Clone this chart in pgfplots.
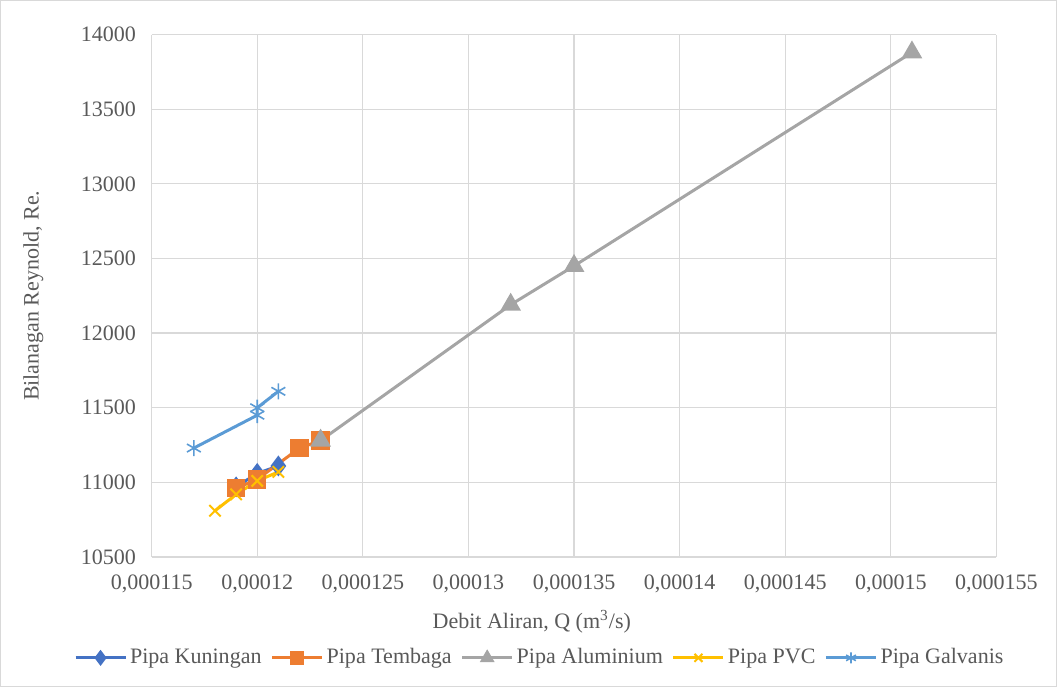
\documentclass[border=0pt]{standalone}
\usepackage{pgfplots}
\pgfplotsset{compat=1.18}
\usepackage{fontspec}
\setmainfont{Liberation Serif}
\definecolor{cK}{HTML}{4472C4}
\definecolor{cT}{HTML}{ED7D31}
\definecolor{cA}{HTML}{A5A5A5}
\definecolor{cP}{HTML}{FFC000}
\definecolor{cG}{HTML}{5B9BD5}
\definecolor{gridc}{HTML}{D9D9D9}
\definecolor{txt}{HTML}{595959}
\begin{document}
\begin{tikzpicture}
\fontsize{11}{13}\selectfont
\path[draw=gridc, line width=0.5pt] (0.5pt,0.5pt) rectangle (528pt,343pt);
\begin{axis}[
  at={(76pt,65pt)}, anchor=south west,
  scale only axis, width=422pt, height=261pt,
  xmin=0.000115, xmax=0.000155, ymin=10500, ymax=14000,
  xtick={0.000115,0.00012,0.000125,0.00013,0.000135,0.00014,0.000145,0.00015,0.000155},
  xticklabels={{0,000115},{0,00012},{0,000125},{0,00013},{0,000135},{0,00014},{0,000145},{0,00015},{0,000155}},
  scaled x ticks=false, scaled y ticks=false,
  ytick={10500,11000,11500,12000,12500,13000,13500,14000},
  yticklabels={10500,11000,11500,12000,12500,13000,13500,14000},
  grid=major, major grid style={draw=gridc, line width=0.6pt},
  axis line style={draw=none},
  tick style={draw=none},
  tick label style={font=\fontsize{11}{13}\selectfont, text=txt},
  xticklabel style={yshift=-5pt},
  yticklabel style={xshift=-4pt},
  label style={font=\fontsize{11}{13}\selectfont, text=txt},
  xlabel={Debit Aliran, Q (m\textsuperscript{3}/s)},
  ylabel={Bilanagan Reynold, Re.},
  xlabel style={at={(axis description cs:0.45,-0.1245)}, anchor=center},
  ylabel style={at={(axis description cs:-0.14,0.5)}, anchor=center},
  legend columns=5,
  legend style={draw=none, at={(axis description cs:0.46,-0.193)}, anchor=center,
    font=\fontsize{11}{13}\selectfont, text=txt,
    /tikz/every odd column/.append style={column sep=0pt},
    /tikz/every even column/.append style={column sep=3pt},
    nodes={inner xsep=1.5pt}},
  legend image code/.code={
    \draw[#1] (0pt,0pt) -- (25pt,0pt);
    \draw[#1, only marks, mark size=2.8pt] plot coordinates {(12.5pt,0pt)};
  },
]
\addplot[color=cK, line width=1.5pt, mark=diamond*, mark size=4pt, mark options={solid}]
  coordinates {(0.000119,10970) (0.00012,11060) (0.000121,11110)};
\addlegendentry{Pipa Kuningan}
\addplot[color=cT, line width=1.5pt, mark=square*, mark size=3.8pt]
  coordinates {(0.000119,10960) (0.00012,11020) (0.000122,11230) (0.000123,11280)};
\addlegendentry{Pipa Tembaga}
\addplot[color=cA, line width=1.5pt, mark=triangle*, mark size=4.5pt]
  coordinates {(0.000123,11280) (0.000132,12190) (0.000135,12450) (0.000151,13880)};
\addlegendentry{Pipa Aluminium}
\addplot[color=cP, line width=1.5pt, mark=x, mark size=4pt, mark options={line width=1pt}]
  coordinates {(0.000118,10810) (0.000119,10920) (0.00012,11010) (0.000121,11070)};
\addlegendentry{Pipa PVC}
\addplot[color=cG, line width=1.5pt, mark=asterisk, mark size=4pt, mark options={line width=0.8pt}]
  coordinates {(0.000117,11230) (0.00012,11450) (0.00012,11500) (0.000121,11610)};
\addlegendentry{Pipa Galvanis}
\end{axis}
\end{tikzpicture}
\end{document}
